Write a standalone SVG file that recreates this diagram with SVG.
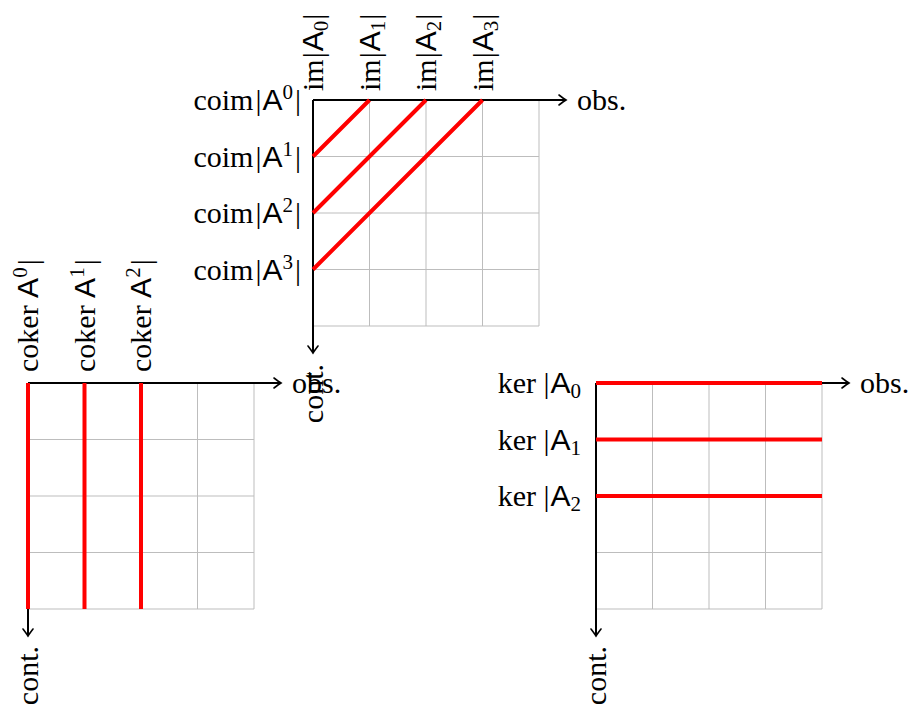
<svg xmlns="http://www.w3.org/2000/svg" width="912" height="711" viewBox="0 0 912 711">
<style>
.t{font-family:"Liberation Serif","Times New Roman",serif;font-size:30px;fill:#000}
.sf{font-family:"Liberation Sans","DejaVu Sans",sans-serif}
.sc{font-size:21px}
.grid{stroke:#bdbdbd;stroke-width:1;fill:none}
.axis{stroke:#000;stroke-width:2;fill:none}
.red{stroke:#ff0000;stroke-width:4;fill:none}
</style>
<defs>
<marker id="arr" viewBox="-10 -7 12 14" refX="0" refY="0" markerWidth="12" markerHeight="14" orient="auto" markerUnits="userSpaceOnUse">
<path d="M -7 -5 Q -2 -1.2 0 0 Q -2 1.2 -7 5" fill="none" stroke="#000" stroke-width="1.6" stroke-linecap="round"/>
</marker>
</defs>
<rect width="912" height="711" fill="#fff"/>

<!-- Top panel -->
<g id="panel-top">
<g id="top-grid" class="grid">
<path d="M369.5 100V326M426 100V326M482.5 100V326M539 100V326M313 156.5H539M313 213H539M313 269.5H539M313 326H539"/>
</g>
<g id="top-axes" class="axis">
<path d="M313 100H566" marker-end="url(#arr)"/>
<path d="M313 100V353" marker-end="url(#arr)"/>
</g>
<g id="top-red" class="red">
<path d="M313 156.5L369.5 100M313 213L426 100M313 269.5L482.5 100"/>
</g>
<g id="top-labels">
<text class="t" transform="translate(323,91) rotate(-90)">im<tspan dx="1">|</tspan><tspan class="sf" dx="1">A</tspan><tspan class="sc" dy="5">0</tspan><tspan dy="-5" dx="1">|</tspan></text>
<text class="t" transform="translate(379.5,91) rotate(-90)">im<tspan dx="1">|</tspan><tspan class="sf" dx="1">A</tspan><tspan class="sc" dy="5">1</tspan><tspan dy="-5" dx="1">|</tspan></text>
<text class="t" transform="translate(436,91) rotate(-90)">im<tspan dx="1">|</tspan><tspan class="sf" dx="1">A</tspan><tspan class="sc" dy="5">2</tspan><tspan dy="-5" dx="1">|</tspan></text>
<text class="t" transform="translate(492.5,91) rotate(-90)">im<tspan dx="1">|</tspan><tspan class="sf" dx="1">A</tspan><tspan class="sc" dy="5">3</tspan><tspan dy="-5" dx="1">|</tspan></text>
<text class="t" x="301" y="110" text-anchor="end">coim<tspan dx="2">|</tspan><tspan class="sf" dx="1">A</tspan><tspan class="sc" dy="-11">0</tspan><tspan dy="11" dx="2">|</tspan></text>
<text class="t" x="301" y="166.5" text-anchor="end">coim<tspan dx="2">|</tspan><tspan class="sf" dx="1">A</tspan><tspan class="sc" dy="-11">1</tspan><tspan dy="11" dx="2">|</tspan></text>
<text class="t" x="301" y="223" text-anchor="end">coim<tspan dx="2">|</tspan><tspan class="sf" dx="1">A</tspan><tspan class="sc" dy="-11">2</tspan><tspan dy="11" dx="2">|</tspan></text>
<text class="t" x="301" y="279.5" text-anchor="end">coim<tspan dx="2">|</tspan><tspan class="sf" dx="1">A</tspan><tspan class="sc" dy="-11">3</tspan><tspan dy="11" dx="2">|</tspan></text>
<text class="t" x="577" y="110">obs.</text>
<text class="t" transform="translate(323,364) rotate(-90)" text-anchor="end">cont.</text>
</g>
</g>

<!-- Bottom-left panel -->
<g id="panel-left">
<g id="left-grid" class="grid">
<path d="M84.5 383V609M141 383V609M197.5 383V609M254 383V609M28 439.5H254M28 496H254M28 552.5H254M28 609H254"/>
</g>
<g id="left-axes" class="axis">
<path d="M28 383H281" marker-end="url(#arr)"/>
<path d="M28 383V636" marker-end="url(#arr)"/>
</g>
<g id="left-red" class="red">
<path d="M28 383V609M84.5 383V609M141 383V609"/>
</g>
<g id="left-labels">
<text class="t" transform="translate(38,372) rotate(-90)">coker <tspan class="sf">A</tspan><tspan class="sc" dy="-11">0</tspan><tspan dy="11" dx="2">|</tspan></text>
<text class="t" transform="translate(94.5,372) rotate(-90)">coker <tspan class="sf">A</tspan><tspan class="sc" dy="-11">1</tspan><tspan dy="11" dx="2">|</tspan></text>
<text class="t" transform="translate(151,372) rotate(-90)">coker <tspan class="sf">A</tspan><tspan class="sc" dy="-11">2</tspan><tspan dy="11" dx="2">|</tspan></text>
<text class="t" x="292" y="393">obs.</text>
<text class="t" transform="translate(38,646) rotate(-90)" text-anchor="end">cont.</text>
</g>
</g>

<!-- Bottom-right panel -->
<g id="panel-right">
<g id="right-grid" class="grid">
<path d="M652.5 383V609M709 383V609M765.5 383V609M822 383V609M596 439.5H822M596 496H822M596 552.5H822M596 609H822"/>
</g>
<g id="right-axes" class="axis">
<path d="M596 383H849" marker-end="url(#arr)"/>
<path d="M596 383V636" marker-end="url(#arr)"/>
</g>
<g id="right-red" class="red">
<path d="M596 383H822M596 439.5H822M596 496H822"/>
</g>
<g id="right-labels">
<text class="t" x="581" y="393" text-anchor="end">ker <tspan>|</tspan><tspan class="sf" dx="1">A</tspan><tspan class="sc" dy="5">0</tspan></text>
<text class="t" x="581" y="449.5" text-anchor="end">ker <tspan>|</tspan><tspan class="sf" dx="1">A</tspan><tspan class="sc" dy="5">1</tspan></text>
<text class="t" x="581" y="506" text-anchor="end">ker <tspan>|</tspan><tspan class="sf" dx="1">A</tspan><tspan class="sc" dy="5">2</tspan></text>
<text class="t" x="860" y="393">obs.</text>
<text class="t" transform="translate(606,646) rotate(-90)" text-anchor="end">cont.</text>
</g>
</g>
</svg>
